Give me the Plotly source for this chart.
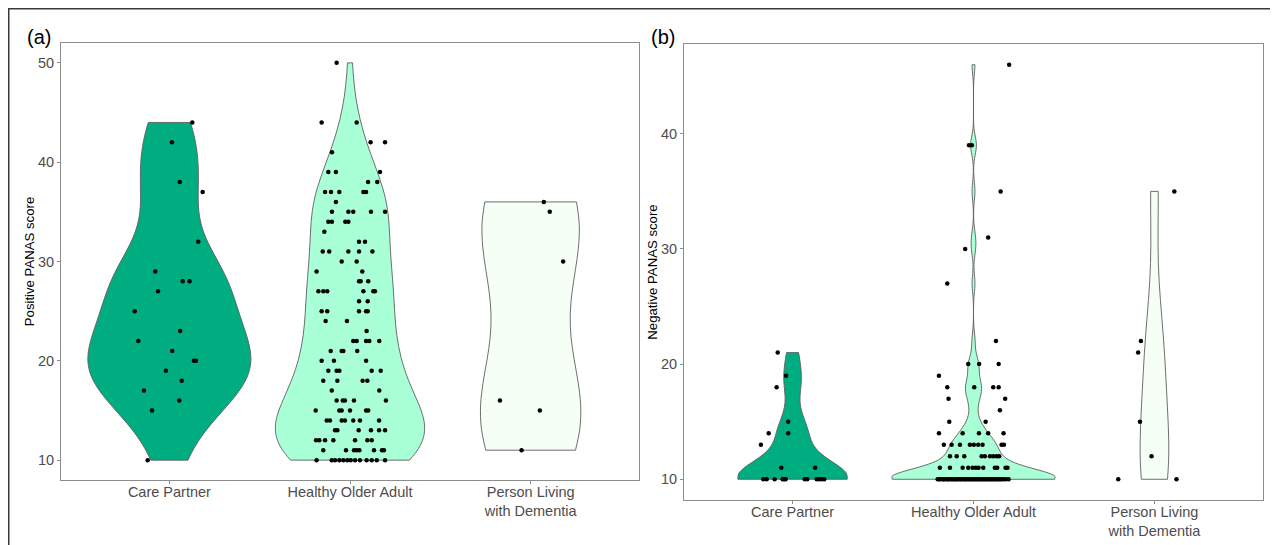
import numpy as np
import plotly.graph_objects as go

categories = ["Care Partner", "Healthy Older Adult", "Person Living<br>with Dementia"]
colors = ["#00AD80", "#A9FFD6", "#F5FFF5"]

# ---------- Panel (a): Positive PANAS ----------
cp_pos = [44, 42, 38, 37, 32, 29, 27, 28, 28, 25, 23, 22, 21, 20, 20, 19, 18, 17, 16, 15, 10]
cp_pos_jit = [0.127, 0.014, 0.057, 0.184, 0.16, -0.078, -0.063, 0.074, 0.112, -0.192, 0.06,
              -0.172, 0.016, 0.136, 0.147, -0.019, 0.068, -0.141, 0.055, -0.096, -0.12]

ha_pos = ([50] + [44]*2 + [42]*2 + [41] + [39]*3 + [38]*2 + [37]*5 + [36] + [35]*5 + [34]*4 +
          [33] + [32]*2 + [31]*5 + [30]*2 + [29]*2 + [28]*3 + [27]*6 + [26]*2 + [25]*5 + [24]*2 +
          [23] + [22]*5 + [21]*4 + [20]*3 + [19]*5 + [18]*4 + [17]*2 + [16]*5 + [15]*6 + [14]*7 +
          [13]*6 + [12]*7 + [11]*8 + [10]*13)
ha_pos_jit = [-0.074,
              -0.157, 0.037,
              0.114, 0.194,
              -0.10,
              -0.12, -0.078, 0.166,
              0.10, 0.151,
              -0.138, -0.105, -0.059, 0.074, 0.089,
              -0.078,
              -0.10, -0.009, 0.018, 0.116, 0.194,
              -0.12, -0.10, -0.026, -0.009,
              -0.142,
              0.05, 0.083,
              -0.151, -0.115, -0.009, 0.05, 0.124,
              -0.046, 0.037,
              -0.185, 0.068,
              0.05, 0.059, 0.101,
              -0.175, -0.148, -0.126, 0.074, 0.129, 0.138,
              0.05, 0.098,
              -0.157, -0.126, 0.05, 0.089, 0.098,
              -0.135, -0.017,
              0.092,
              0.018, 0.037, 0.089, 0.107, 0.162,
              -0.107, -0.046, -0.037, 0.04,
              -0.157, -0.089, 0.089,
              -0.12, -0.074, -0.059, 0.12, 0.17,
              -0.148, -0.07, 0.07, 0.096,
              -0.101, 0.162,
              -0.074, -0.04, -0.028, 0.022, 0.199,
              -0.19, -0.059, -0.046, 0.0, 0.089, 0.101,
              -0.129, -0.111, -0.046, -0.028, 0.018, 0.055, 0.161,
              -0.083, -0.07, 0.048, 0.116, 0.161, 0.194,
              -0.188, -0.17, -0.138, -0.092, 0.028, 0.096, 0.12,
              -0.148, -0.022, 0.022, 0.037, 0.052, 0.133, 0.177, 0.188,
              -0.185, -0.101, -0.083, -0.059, -0.037, -0.015, 0.004, 0.028, 0.055, 0.092, 0.12, 0.148, 0.194]

pd_pos = [36, 35, 30, 16, 15, 11]
pd_pos_jit = [0.073, 0.106, 0.18, -0.17, 0.051, -0.05]

# ---------- Panel (b): Negative PANAS ----------
cp_neg = [21, 19, 18, 15, 14, 14, 13, 11, 11] + [10]*12
cp_neg_jit = [-0.082, -0.036, -0.088, -0.024, -0.024, -0.132, -0.175, -0.062, 0.125,
              -0.162, -0.143, -0.099, -0.055, -0.046, -0.038, 0.067, 0.081, 0.133, 0.146, 0.161, 0.175]

ha_neg = ([46] + [39]*2 + [35] + [31] + [30] + [27] + [22] + [20]*3 + [19] + [18]*4 + [17]*2 +
          [16] + [15]*2 + [14]*5 + [13]*9 + [12]*9 + [11]*12 + [10]*50)
ha_neg_jit = [0.197,
              -0.025, -0.009,
              0.15,
              0.081,
              -0.046,
              -0.145,
              0.124,
              -0.029, 0.031, 0.139,
              -0.191,
              -0.145, 0.004, 0.109, 0.139,
              -0.138, 0.175,
              0.146,
              -0.134, 0.067,
              -0.191, -0.06, 0.03, 0.081, 0.166,
              -0.164, -0.121, -0.075, -0.02, 0.002, 0.026, 0.05, 0.155, 0.168,
              -0.13, -0.093, -0.051, 0.045, 0.063, 0.091, 0.109, 0.128, 0.142,
              -0.186, -0.13, -0.06, -0.029, -0.005, 0.013, 0.028, 0.054, 0.118, 0.131, 0.177, 0.188,
              -0.198, -0.19, -0.183, -0.171, -0.166, -0.158, -0.149, -0.141, -0.137, -0.126,
              -0.118, -0.111, -0.102, -0.097, -0.089, -0.081, -0.072, -0.066, -0.058, -0.049,
              -0.043, -0.036, -0.027, -0.019, -0.012, -0.004, 0.003, 0.011, 0.019, 0.026,
              0.034, 0.041, 0.049, 0.057, 0.063, 0.072, 0.079, 0.088, 0.094, 0.102,
              0.109, 0.118, 0.126, 0.133, 0.141, 0.149, 0.157, 0.168, 0.179, 0.194]

pd_neg = [35, 22, 21, 15, 12, 10, 10]
pd_neg_jit = [0.11, -0.075, -0.09, -0.08, -0.016, -0.2, 0.122]


def bw_nrd0(v):
    v = np.asarray(v, dtype=float)
    sd = v.std(ddof=1)
    q1, q3 = np.percentile(v, [25, 75])
    lo = min(sd, (q3 - q1) / 1.34)
    return 0.9 * lo * len(v) ** (-0.2)


def max_kde(v, bw):
    v = np.asarray(v, dtype=float)
    t = np.linspace(v.min(), v.max(), 512)
    d = np.exp(-0.5 * ((t[:, None] - v[None, :]) / bw) ** 2).sum(axis=1)
    d /= len(v) * bw * np.sqrt(2 * np.pi)
    return d.max()


W, H = 1278, 545
OFF = 8  # page offset of the plot div inside the browser window


def fx(px):
    return (px - OFF) / W


def fy(px):
    return 1 - (px - OFF) / H


panels = {
    "a": dict(xd=[fx(61), fx(639)], yd=[fy(480), fy(43)], yr=[8.0, 52.0],
              yt=[10, 20, 30, 40, 50], title="Positive PANAS score", xstand=-4,
              data=[(cp_pos, cp_pos_jit), (ha_pos, ha_pos_jit), (pd_pos, pd_pos_jit)]),
    "b": dict(xd=[fx(684), fx(1263)], yd=[fy(500), fy(44)], yr=[8.2, 47.8],
              yt=[10, 20, 30, 40], title="Negative PANAS score", xstand=-4,
              data=[(cp_neg, cp_neg_jit), (ha_neg, ha_neg_jit), (pd_neg, pd_neg_jit)]),
}

tickfont = dict(family="Liberation Sans, Arial", size=14.5, color="#4d4d4d")
fig = go.Figure()
layout = {}
for k, (key, p) in enumerate(panels.items()):
    xa = "x" if k == 0 else "x2"
    ya = "y" if k == 0 else "y2"
    bws = [bw_nrd0(vals) for vals, _ in p["data"]]
    mk = [max_kde(vals, bw) for (vals, _), bw in zip(p["data"], bws)]
    top = max(mk)
    for i, (vals, jit) in enumerate(p["data"]):
        fig.add_trace(go.Violin(
            x=[i] * len(vals), y=vals, xaxis=xa, yaxis=ya,
            spanmode="hard", bandwidth=bws[i], width=0.9 * mk[i] / top,
            scalegroup=f"{key}{i}", scalemode="width", points=False,
            fillcolor=colors[i], opacity=1, line=dict(color="#5f5f5f", width=0.9),
            box_visible=False, meanline_visible=False, showlegend=False, hoverinfo="skip"))
    for i, (vals, jit) in enumerate(p["data"]):
        fig.add_trace(go.Scatter(
            x=[i + j for j in jit], y=vals, xaxis=xa, yaxis=ya, mode="markers",
            marker=dict(color="black", size=4.5), showlegend=False, hoverinfo="skip"))
    axis_common = dict(showline=True, mirror=True, linecolor="#8c8c8c", linewidth=1,
                       showgrid=False, zeroline=False, ticks="outside", ticklen=3,
                       tickcolor="#8c8c8c", tickwidth=1, tickfont=tickfont)
    sfx = "" if k == 0 else "2"
    layout["xaxis" + sfx] = dict(domain=p["xd"], range=[-0.6, 2.6], tickvals=[0, 1, 2],
                                 ticktext=categories, anchor=ya,
                                 ticklabelstandoff=p["xstand"], **axis_common)
    layout["yaxis" + sfx] = dict(domain=p["yd"], range=p["yr"], tickvals=p["yt"], anchor=xa,
                                 title=dict(text=p["title"], standoff=0,
                                            font=dict(family="Liberation Sans, Arial", size=13.2,
                                                      color="black")),
                                 **axis_common)

fig.update_layout(
    width=W, height=H, margin=dict(l=0, r=0, t=0, b=0, autoexpand=False),
    paper_bgcolor="white", plot_bgcolor="white", violinmode="overlay", violingap=0,
    font=dict(family="Liberation Sans, Arial"),
    annotations=[
        dict(text="(a)", x=fx(25), y=fy(37), xref="paper", yref="paper", xanchor="left",
             yanchor="middle", showarrow=False, font=dict(size=20, color="black")),
        dict(text="(b)", x=fx(649), y=fy(37), xref="paper", yref="paper", xanchor="left",
             yanchor="middle", showarrow=False, font=dict(size=20, color="black")),
    ],
    shapes=[
        dict(type="line", xref="paper", yref="paper", x0=0, x1=1, y0=fy(8.75), y1=fy(8.75),
             line=dict(color="#3a3a3a", width=1.5)),
        dict(type="line", xref="paper", yref="paper", x0=fx(8.75), x1=fx(8.75), y0=0, y1=fy(8),
             line=dict(color="#3a3a3a", width=1.5)),
    ],
    **layout,
)

fig.write_html("out.html")
